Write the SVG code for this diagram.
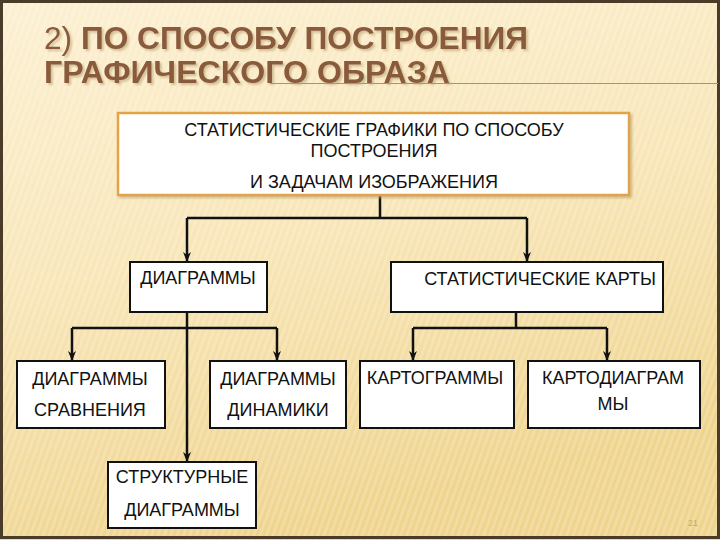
<svg xmlns="http://www.w3.org/2000/svg" width="720" height="540" viewBox="0 0 720 540">
<defs>
<linearGradient id="bg" x1="0" y1="0" x2="0.3" y2="1">
<stop offset="0" stop-color="#fcf0d2"/>
<stop offset="0.5" stop-color="#f8e6b8"/>
<stop offset="1" stop-color="#efd48e"/>
</linearGradient>
<pattern id="stripes" width="6" height="6" patternUnits="userSpaceOnUse" patternTransform="rotate(20)">
<rect width="3" height="6" fill="#ffffff" opacity="0.18"/>
</pattern>
<marker id="arr" viewBox="0 0 10 10" refX="9" refY="5" markerWidth="4" markerHeight="4" orient="auto" markerUnits="strokeWidth">
<path d="M0,1 L10,5 L0,9 L3,5 z" fill="#111"/>
</marker>
<filter id="sh" x="-5%" y="-5%" width="110%" height="120%">
<feOffset dx="1.5" dy="1.5" in="SourceAlpha" result="o"/>
<feGaussianBlur in="o" stdDeviation="0.8" result="b"/>
<feFlood flood-color="#b8a070" flood-opacity="0.6"/>
<feComposite in2="b" operator="in"/>
<feMerge><feMergeNode/><feMergeNode in="SourceGraphic"/></feMerge>
</filter>
</defs>
<style>
.box{fill:#ffffff;stroke:#111;stroke-width:2}
.top{fill:#ffffff;stroke:#e2a446;stroke-width:2.5}
.t{font-family:"Liberation Sans",Arial,sans-serif;font-size:18px;fill:#111;text-anchor:middle}
.title{font-family:"Liberation Sans",Arial,sans-serif;font-size:32px;font-weight:bold;fill:#8a5a3e}
.con{fill:none;stroke:#111;stroke-width:2.5}
</style>
<rect width="720" height="540" fill="url(#bg)"/>
<rect width="720" height="540" fill="url(#stripes)"/>
<rect x="1.5" y="1.5" width="717" height="536" fill="none" stroke="#4a3c28" stroke-width="3"/>
<line x1="270" y1="83.5" x2="718" y2="83.5" stroke="#b8905a" stroke-width="1"/>
<g id="title" filter="url(#sh)">
<text class="title" x="44" y="49" textLength="484" lengthAdjust="spacingAndGlyphs"><tspan font-weight="normal">2)</tspan> ПО СПОСОБУ ПОСТРОЕНИЯ</text>
<text class="title" x="44" y="83" textLength="406" lengthAdjust="spacingAndGlyphs">ГРАФИЧЕСКОГО ОБРАЗА</text>
</g>
<g id="connectors">
<path class="con" d="M380,195 V218 M187,218 H527"/>
<path class="con" d="M187,218 V261" marker-end="url(#arr)"/>
<path class="con" d="M527,218 V261" marker-end="url(#arr)"/>
<path class="con" d="M72,328 H277"/>
<path class="con" d="M72,328 V360" marker-end="url(#arr)"/>
<path class="con" d="M277,328 V360" marker-end="url(#arr)"/>
<path class="con" d="M187,312 V461" marker-end="url(#arr)"/>
<path class="con" d="M516,312 V328 M413,328 H607"/>
<path class="con" d="M413,328 V360" marker-end="url(#arr)"/>
<path class="con" d="M607,328 V360" marker-end="url(#arr)"/>
</g>
<g id="root">
<rect class="top" x="118" y="113" width="511" height="82" filter="url(#sh)"/>
<text class="t" x="374" y="136">СТАТИСТИЧЕСКИЕ ГРАФИКИ ПО СПОСОБУ</text>
<text class="t" x="374" y="157">ПОСТРОЕНИЯ</text>
<text class="t" x="374" y="188">И ЗАДАЧАМ ИЗОБРАЖЕНИЯ</text>
</g>
<g id="diagrams">
<rect class="box" x="130" y="262" width="137" height="50"/>
<text class="t" x="198" y="284">ДИАГРАММЫ</text>
</g>
<g id="maps">
<rect class="box" x="391" y="262" width="272" height="50"/>
<text class="t" x="540" y="285">СТАТИСТИЧЕСКИЕ КАРТЫ</text>
</g>
<g id="compare">
<rect class="box" x="17" y="361" width="148" height="67"/>
<text class="t" x="90" y="385">ДИАГРАММЫ</text>
<text class="t" x="90" y="416">СРАВНЕНИЯ</text>
</g>
<g id="dynamics">
<rect class="box" x="210" y="361" width="136" height="67"/>
<text class="t" x="278" y="385">ДИАГРАММЫ</text>
<text class="t" x="278" y="416">ДИНАМИКИ</text>
</g>
<g id="cartograms">
<rect class="box" x="360" y="361" width="154" height="67"/>
<text class="t" x="435" y="384">КАРТОГРАММЫ</text>
</g>
<g id="cartodiagrams">
<rect class="box" x="528" y="361" width="172" height="67"/>
<text class="t" x="613" y="384">КАРТОДИАГРАМ</text>
<text class="t" x="613" y="410">МЫ</text>
</g>
<g id="structural">
<rect class="box" x="108" y="462" width="148" height="66"/>
<text class="t" x="182" y="483">СТРУКТУРНЫЕ</text>
<text class="t" x="182" y="516">ДИАГРАММЫ</text>
</g>
<text x="688" y="526" font-family="Liberation Sans,Arial,sans-serif" font-size="9" fill="#c9a95a">21</text>
</svg>
